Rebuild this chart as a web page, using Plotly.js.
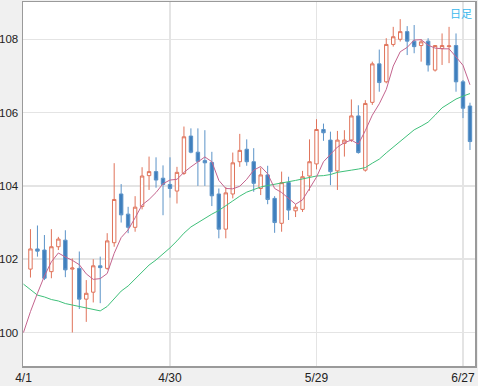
<!DOCTYPE html>
<html>
<head>
<meta charset="utf-8">
<script src="https://cdn.plot.ly/plotly-3.0.1.min.js"></script>
<style>
html,body{margin:0;padding:0;background:#f0f0f0;}
#chart{width:478px;height:386px;}
</style>
</head>
<body>
<div id="chart"></div>
<script>
// Trading days (weekdays) 4/1 .. 6/28
var dates = ["4/1","4/2","4/3","4/4","4/5","4/8","4/9","4/10","4/11","4/12",
"4/15","4/16","4/17","4/18","4/19","4/22","4/23","4/24","4/25","4/26",
"4/29","4/30","5/1","5/2","5/3","5/6","5/7","5/8","5/9","5/10",
"5/13","5/14","5/15","5/16","5/17","5/20","5/21","5/22","5/23","5/24",
"5/27","5/28","5/29","5/30","5/31","6/3","6/4","6/5","6/6","6/7",
"6/10","6/11","6/12","6/13","6/14","6/17","6/18","6/19","6/20","6/21",
"6/24","6/25","6/26","6/27","6/28"];

var openP = [null,101.73,102.28,102.25,101.66,102.34,102.52,101.73,101.75,100.91,
101.10,101.82,101.75,102.45,103.78,103.23,102.87,103.44,104.28,104.39,
104.21,104.04,103.86,104.34,105.36,104.92,104.69,104.64,103.78,102.82,
103.78,104.66,105.00,104.66,103.93,104.30,103.66,102.98,104.09,103.32,
103.36,104.27,104.60,105.54,105.25,104.41,105.16,105.25,105.91,104.43,
106.28,107.33,106.84,107.86,108.00,108.21,107.95,107.83,107.95,107.16,
107.75,107.80,107.83,106.84,106.18];
var highP = [null,102.82,102.92,102.66,102.82,102.61,102.79,102.02,102.21,101.43,
102.00,102.07,102.71,104.62,104.05,103.43,103.72,104.51,104.80,104.78,
104.56,104.78,104.52,105.62,105.57,105.57,105.52,104.93,103.93,103.97,
104.91,105.42,105.27,105.03,104.50,104.55,103.72,104.39,104.25,103.50,
104.41,105.27,105.82,105.70,105.48,105.50,105.52,106.36,106.20,106.34,
107.39,107.72,108.03,108.34,108.55,108.36,108.39,108.00,108.03,107.84,
108.16,108.34,108.16,106.89,106.27];
var lowP = [null,101.50,102.07,101.43,101.48,102.25,101.51,100.00,100.64,100.29,
100.82,100.80,101.71,102.34,103.00,102.71,102.75,103.36,103.89,103.95,
103.20,103.68,103.52,104.30,104.89,104.00,104.00,103.45,102.57,102.57,
103.66,104.52,104.55,103.84,103.75,103.50,102.72,102.75,103.07,103.15,
103.29,103.87,104.45,105.23,104.02,103.89,104.80,105.20,104.88,104.39,
106.21,106.57,106.80,107.80,107.94,107.57,107.62,107.39,107.12,107.12,
107.30,107.35,106.57,105.85,104.98];
var closeP = [null,102.28,102.22,101.48,102.34,102.55,101.71,101.76,100.91,101.07,
101.82,101.77,102.50,103.63,103.21,102.87,103.42,104.27,104.39,104.16,
104.04,103.93,104.37,105.34,104.92,104.67,104.63,103.73,102.82,103.81,
104.63,104.97,104.66,104.07,104.30,103.63,103.00,104.09,103.34,103.42,
104.25,104.66,105.54,105.45,104.39,105.25,105.25,105.91,104.91,106.25,
107.33,106.82,107.86,108.07,108.21,107.95,107.80,107.93,107.30,107.83,
107.83,107.82,106.84,106.12,105.21];

// short moving average (pink)
var maShort = [100.00,100.57,101.07,101.54,101.93,102.17,102.06,101.97,101.85,101.60,
101.45,101.47,101.61,102.16,102.59,102.80,103.13,103.48,103.63,103.82,
104.06,104.16,104.18,104.37,104.52,104.65,104.79,104.66,104.15,103.93,
103.92,103.99,104.18,104.43,104.53,104.33,103.93,103.82,103.67,103.50,
103.62,103.95,104.24,104.66,104.86,105.06,105.18,105.25,105.14,105.51,
105.93,106.24,106.63,107.27,107.66,107.78,107.98,107.99,107.84,107.76,
107.74,107.74,107.52,107.29,106.76];
// long moving average (green)
var maLong = [101.32,101.16,101.02,100.97,100.90,100.86,100.79,100.75,100.71,100.67,
100.61,100.59,100.71,100.91,101.13,101.27,101.46,101.65,101.84,101.98,
102.14,102.31,102.50,102.71,102.88,103.00,103.12,103.23,103.33,103.45,
103.59,103.72,103.83,103.90,103.97,104.01,104.04,104.08,104.11,104.15,
104.19,104.23,104.27,104.28,104.31,104.37,104.41,104.43,104.46,104.50,
104.62,104.73,104.90,105.06,105.23,105.38,105.53,105.63,105.74,105.93,
106.13,106.25,106.37,106.45,106.52];

var xTickVals = ["4/1","4/30","5/29","6/27"];
var yTickVals = [100,102,104,106,108];
var cornerLabel = "日足";

var traces = [
  {
    type: "candlestick",
    x: dates, open: openP, high: highP, low: lowP, close: closeP,
    increasing: {line: {color: "#e0735a", width: 1}, fillcolor: "#ffffff"},
    decreasing: {line: {color: "#5b93c8", width: 1}, fillcolor: "#3f7fbd"},
    whiskerwidth: 0,
    hoverinfo: "skip",
    showlegend: false
  },
  {
    type: "scatter", mode: "lines", x: dates, y: maLong,
    line: {color: "#3fc07a", width: 1},
    hoverinfo: "skip", showlegend: false
  },
  {
    type: "scatter", mode: "lines", x: dates, y: maShort,
    line: {color: "#c4648e", width: 1},
    hoverinfo: "skip", showlegend: false
  }
];

var layout = {
  width: 478, height: 386,
  margin: {l: 23, r: 3, t: 2, b: 20, pad: 0},
  paper_bgcolor: "#f0f0f0",
  plot_bgcolor: "#ffffff",
  showlegend: false,
  font: {family: "Liberation Sans, Arial, sans-serif", size: 12, color: "#222222"},
  xaxis: {
    type: "category",
    categoryorder: "array", categoryarray: dates,
    range: [-0.07, 64.72],
    rangeslider: {visible: false},
    tickmode: "array", tickvals: xTickVals, ticktext: xTickVals,
    showgrid: true, gridcolor: "#e4e4e4", gridwidth: 1.5,
    showline: true, linecolor: "#9a9a9a", linewidth: 1.5, mirror: true,
    ticks: "", zeroline: false,
    tickfont: {size: 12, color: "#222222"}
  },
  yaxis: {
    range: [99.086, 109.018],
    tickmode: "array", tickvals: yTickVals,
    showgrid: true, gridcolor: "#e4e4e4", gridwidth: 1.5,
    showline: true, linecolor: "#9a9a9a", linewidth: 1.5, mirror: true,
    ticks: "", zeroline: false,
    ticklabelstandoff: 1,
    tickfont: {size: 11.5, color: "#222222"}
  },
  annotations: [{
    xref: "paper", yref: "paper", x: 1, y: 1,
    xanchor: "right", yanchor: "top", xshift: -1, yshift: -1,
    text: cornerLabel, showarrow: false,
    font: {family: "Noto Sans CJK JP, sans-serif", size: 11, color: "#3ab8ee"}
  }]
};

Plotly.newPlot("chart", traces, layout, {displayModeBar: false, staticPlot: true});
</script>
</body>
</html>
